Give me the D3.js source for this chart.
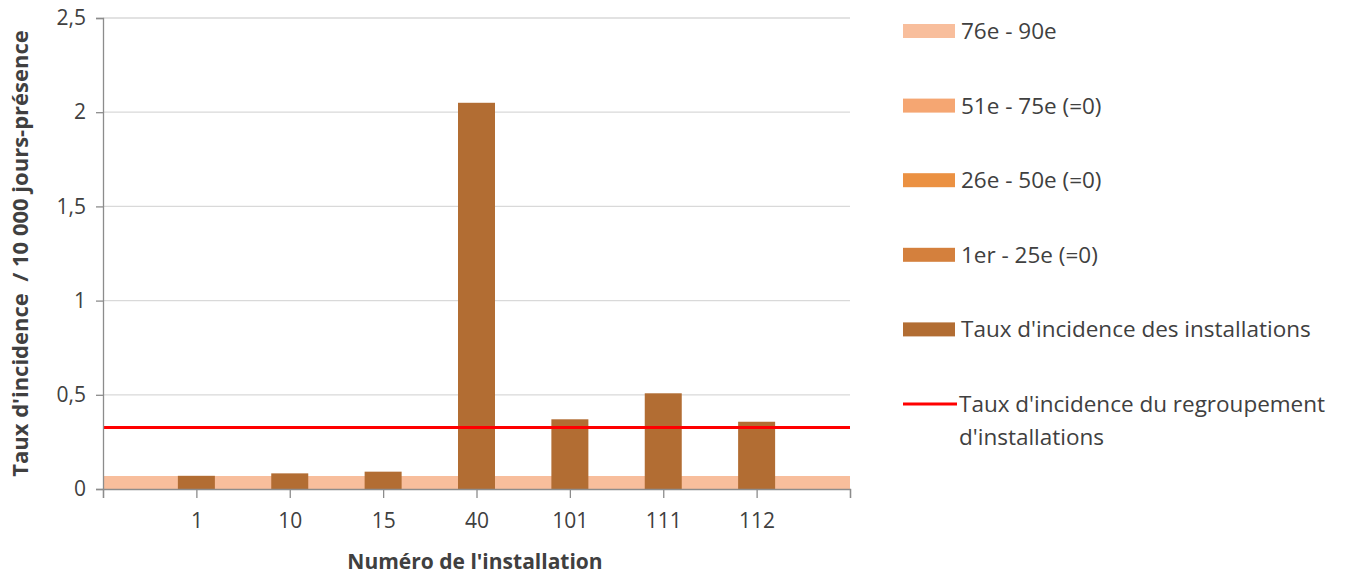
<!DOCTYPE html>
<html>
<head>
<meta charset="utf-8">
<script src="https://cdn.jsdelivr.net/npm/d3@7"></script>
<style>
	body { margin: 0; background: #fff; }
	text { font-family: "Open Sans", sans-serif; fill: #404040; }
</style>
</head>
<body>
<svg width="1355" height="577"></svg>
<script>
// categories (first and last slots are empty, the axis sits "on tick marks")
const installations = ["", "1", "10", "15", "40", "101", "111", "112", ""];
// incidence rate per installation (null = no bar)
const tauxInstallations = [null, 0.07, 0.083, 0.092, 2.05, 0.37, 0.508, 0.357, null];
// rate of the whole group
const tauxRegroupement = 0.327;
// percentile bands (stacked areas)
const bandNames = ["76e - 90e", "51e - 75e (=0)", "26e - 50e (=0)", "1er - 25e (=0)"];
const band76_90 = [0.069, 0.069, 0.069, 0.069, 0.069, 0.069, 0.069, 0.069, 0.069];
const band51_75 = [0, 0, 0, 0, 0, 0, 0, 0, 0];
const band26_50 = [0, 0, 0, 0, 0, 0, 0, 0, 0];
const band1_25 = [0, 0, 0, 0, 0, 0, 0, 0, 0];
const yTicks = [0, 0.5, 1, 1.5, 2, 2.5];

const bandColors = ["#F8BE9C", "#F5A672", "#EB9142", "#D4803D"];
const barColor = "#B26D33";
const lineColor = "#FF0000";

const svg = d3.select("svg");
const plotLeft = 103, plotRight = 850, plotTop = 18, plotBottom = 489;

const x = d3.scalePoint().domain(d3.range(installations.length)).range([plotLeft, plotRight]);
const y = d3.scaleLinear().domain([0, 2.5]).range([plotBottom, plotTop]);
const barW = 37;

// gridlines
svg.append("g")
	.selectAll("line")
	.data(yTicks.filter((d) => d > 0))
	.join("line")
	.attr("x1", plotLeft)
	.attr("x2", plotRight)
	.attr("y1", (d) => y(d))
	.attr("y2", (d) => y(d))
	.attr("stroke", "#d9d9d9")
	.attr("stroke-width", 1.3);

// stacked percentile areas
const rows = installations.map((c, i) => ({
	i: i,
	b0: band76_90[i],
	b1: band51_75[i],
	b2: band26_50[i],
	b3: band1_25[i],
}));
const stack = d3.stack().keys(["b0", "b1", "b2", "b3"]);
const area = d3
	.area()
	.x((d) => x(d.data.i))
	.y0((d) => y(d[0]))
	.y1((d) => y(d[1]));
svg.append("g")
	.selectAll("path")
	.data(stack(rows))
	.join("path")
	.attr("d", area)
	.attr("fill", (d, i) => bandColors[i]);

// bars
svg.append("g")
	.selectAll("rect")
	.data(tauxInstallations.map((v, i) => ({ v: v, i: i })).filter((d) => d.v !== null))
	.join("rect")
	.attr("x", (d) => x(d.i) - barW / 2)
	.attr("width", barW)
	.attr("y", (d) => y(d.v))
	.attr("height", (d) => y(0) - y(d.v))
	.attr("fill", barColor);

// group line
svg.append("line")
	.attr("x1", plotLeft)
	.attr("x2", plotRight)
	.attr("y1", y(tauxRegroupement))
	.attr("y2", y(tauxRegroupement))
	.attr("stroke", lineColor)
	.attr("stroke-width", 3);

// axes
const yAxis = svg.append("g")
	.attr("transform", "translate(" + plotLeft + ",0)")
	.call(d3.axisLeft(y).tickValues(yTicks).tickSize(7).tickPadding(10)
		.tickFormat((d) => String(d).replace(".", ",")));
const xAxis = svg.append("g")
	.attr("transform", "translate(0," + plotBottom + ")")
	.call(d3.axisBottom(x).tickSize(9).tickPadding(15).tickFormat((i) => installations[i]));
[yAxis, xAxis].forEach((g) => {
	g.select(".domain").attr("stroke", "#8c8c8c").attr("stroke-width", 1.3);
	g.selectAll(".tick line").attr("stroke", "#8c8c8c").attr("stroke-width", 1.3);
	g.selectAll(".tick text").attr("font-size", "21px").attr("fill", "#404040")
		.attr("font-family", "'Open Sans', sans-serif");
});

// axis titles
svg.append("text")
	.attr("transform", "translate(28," + (plotBottom + plotTop) / 2 + ") rotate(-90)")
	.attr("text-anchor", "middle")
	.attr("font-size", "22px")
	.attr("font-weight", "bold")
	.attr("fill", "#262626")
	.attr("xml:space", "preserve")
	.text("Taux d'incidence  / 10 000 jours-présence");
svg.append("text")
	.attr("x", 475)
	.attr("y", 569)
	.attr("text-anchor", "middle")
	.attr("font-size", "21px")
	.attr("font-weight", "bold")
	.attr("fill", "#262626")
	.text("Numéro de l'installation");

// legend
const legend = svg.append("g").attr("transform", "translate(903,0)");
const legendItems = bandNames.map((n, i) => ({ name: [n], color: bandColors[i], kind: "box" }));
legendItems.push({ name: ["Taux d'incidence des installations"], color: barColor, kind: "box" });
legendItems.push({ name: ["Taux d'incidence du regroupement", "d'installations"], color: lineColor, kind: "line" });
legendItems.forEach((d, i) => {
	const cy = 31 + i * 74.6;
	if (d.kind === "box") {
		legend.append("rect").attr("x", 0).attr("y", cy - 7).attr("width", 52).attr("height", 14).attr("fill", d.color);
	} else {
		legend.append("line").attr("x1", 0).attr("x2", 54).attr("y1", cy).attr("y2", cy)
			.attr("stroke", d.color).attr("stroke-width", 3);
	}
	d.name.forEach((t, j) => {
		legend.append("text")
			.attr("x", d.kind === "box" ? 58 : 56)
			.attr("y", cy + 8 + j * 33)
			.attr("font-size", "22.5px")
			.attr("fill", "#333")
			.text(t);
	});
});
</script>
</body>
</html>
